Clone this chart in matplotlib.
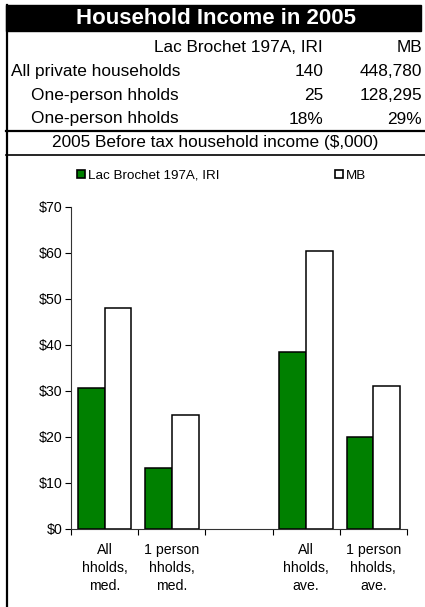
import numpy as np
import matplotlib
matplotlib.use("Agg")
from matplotlib import pyplot as plt
from matplotlib.patches import Rectangle, Patch
from matplotlib.lines import Line2D
from matplotlib.ticker import FuncFormatter, FixedLocator

plt.rcParams['font.family'] = ['Liberation Sans', 'DejaVu Sans']

# header table
title = "Household Income in 2005"
col_heads = ["Lac Brochet 197A, IRI", "MB"]
row_labels = ["All private households", "One-person hholds", "One-person hholds"]
lac_counts = ["140", "25", "18%"]
mb_counts = ["448,780", "128,295", "29%"]
subtitle = "2005 Before tax household income ($,000)"

# chart data (thousands of dollars); middle slot is an empty spacer
categories = ["All\nhholds,\nmed.", "1 person\nhholds,\nmed.", "",
              "All\nhholds,\nave.", "1 person\nhholds,\nave."]
lac_income = [30.5, 13.3, np.nan, 38.5, 19.9]
mb_income = [47.9, 24.7, np.nan, 60.4, 31.1]
series_names = ["Lac Brochet 197A, IRI", "MB"]

W, H = 425, 607
fig = plt.figure(figsize=(W / 100, H / 100), dpi=100)


def fx(px):
    return px / W


def fy(py):
    return 1 - py / H


# black title band
fig.patches.append(Rectangle((fx(6), fy(31)), fx(415), 26 / H,
                             transform=fig.transFigure, color="black"))
fig.text(fx(216), fy(18.5), title, color="white", fontsize=16,
         fontweight="bold", ha="center", va="center")

# left border
fig.add_artist(Line2D([fx(6.5), fx(6.5)], [fy(5), 0], transform=fig.transFigure,
                      color="black", lw=1.6))

fig.text(fx(323), fy(47), col_heads[0], fontsize=12.4, ha="right", va="center")
fig.text(fx(422), fy(47), col_heads[1], fontsize=12.4, ha="right", va="center")
row_y = [71.5, 95.5, 119]
for i, lab in enumerate(row_labels):
    x0 = 11 if i == 0 else 31
    fig.text(fx(x0), fy(row_y[i]), lab, fontsize=12.4, ha="left", va="center")
    fig.text(fx(323), fy(row_y[i]), lac_counts[i], fontsize=12.4, ha="right", va="center")
    fig.text(fx(422), fy(row_y[i]), mb_counts[i], fontsize=12.4, ha="right", va="center")

fig.add_artist(Line2D([fx(6), fx(425)], [fy(131), fy(131)], transform=fig.transFigure,
                      color="black", lw=1.6))
fig.text(fx(215), fy(143), subtitle, fontsize=12.4, ha="center", va="center")
fig.add_artist(Line2D([fx(6), fx(425)], [fy(154.5), fy(154.5)], transform=fig.transFigure,
                      color="black", lw=1.2))

# chart
ax = fig.add_axes([fx(71), fy(528.7), fx(336), (528.7 - 206.7) / H])
x = np.arange(len(categories))
w = 0.4
ax.bar(x - w / 2, lac_income, w, color="#008000", edgecolor="black", lw=1.1,
       label=series_names[0])
ax.bar(x + w / 2, mb_income, w, color="white", edgecolor="black", lw=1.1,
       label=series_names[1])

ax.set_xlim(-0.5, len(categories) - 0.5)
ax.set_ylim(0, 70)
ax.set_yticks(np.arange(0, 71, 10))
ax.yaxis.set_major_formatter(FuncFormatter(lambda v, p: "$%d" % v))
ax.set_xticks(x)
ax.set_xticklabels(categories, fontsize=10.2, linespacing=1.38)
ax.xaxis.set_minor_locator(FixedLocator(np.arange(-0.5, len(categories), 1)))
ax.tick_params(axis="x", which="major", length=0, pad=10)
ax.tick_params(axis="x", which="minor", length=4, width=0.8, direction="out")
ax.tick_params(axis="y", length=4, width=0.8, direction="out", labelsize=10.2, pad=2)
for side in ["top", "right"]:
    ax.spines[side].set_visible(False)
for side in ["left", "bottom"]:
    ax.spines[side].set_linewidth(0.8)
    ax.spines[side].set_color("#333333")

handles = [Patch(facecolor="#008000", edgecolor="black", lw=1.2),
           Patch(facecolor="white", edgecolor="black", lw=1.2)]
fig.legend(handles, series_names, loc="center left", bbox_to_anchor=(fx(77), fy(175.5)),
           ncol=2, frameon=False, fontsize=9.6, handlelength=0.6, handleheight=0.6,
           handletextpad=0.25, columnspacing=8.6, borderpad=0, borderaxespad=0)

fig.savefig("out.png", dpi=100)
